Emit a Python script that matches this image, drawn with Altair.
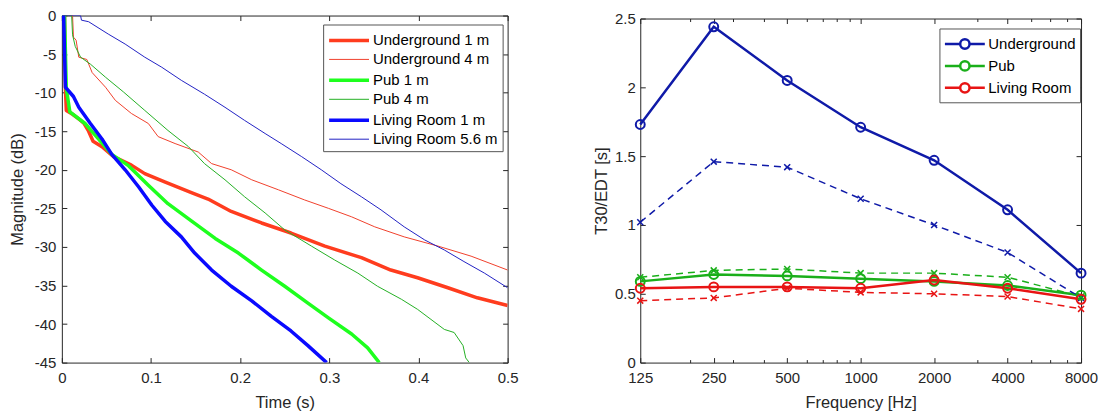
import altair as alt
import pandas as pd

# ---------------- left panel: decay curves ----------------
left_series = ["Underground 1 m", "Underground 4 m", "Pub 1 m", "Pub 4 m",
               "Living Room 1 m", "Living Room 5.6 m"]
left_colors = ["#ff3c1e", "#f0402c", "#1eff1e", "#24b024", "#0a0aff", "#2222c4"]
left_widths = [3.5, 1.0, 3.5, 1.0, 3.5, 1.0]

ug1_t = [0.000, 0.003, 0.004, 0.005, 0.012, 0.020, 0.025, 0.030, 0.035, 0.045, 0.058,
         0.078, 0.093, 0.116, 0.146, 0.164, 0.190, 0.224, 0.257, 0.295, 0.336, 0.369,
         0.399, 0.433, 0.466, 0.500]
ug1_db = [0, 0, -9.5, -12.3, -12.8, -13.5, -14.0, -15.0, -16.3, -17.0, -18.3,
          -19.4, -20.5, -21.6, -23.0, -23.8, -25.4, -26.9, -28.2, -29.9, -31.4, -33.0,
          -34.0, -35.3, -36.6, -37.6]

ug4_t = [0.000, 0.012, 0.013, 0.016, 0.019, 0.028, 0.034, 0.049, 0.060, 0.078, 0.097,
         0.108, 0.127, 0.153, 0.168, 0.190, 0.213, 0.243, 0.272, 0.299, 0.325, 0.351,
         0.384, 0.422, 0.459, 0.500]
ug4_db = [0, 0, -2.8, -3.2, -5.4, -5.7, -7.4, -9.3, -11.0, -12.7, -14.0,
          -15.7, -16.6, -17.7, -19.2, -20.0, -21.3, -22.6, -23.9, -25.0, -26.1, -27.4,
          -28.7, -29.9, -31.2, -33.0]

pub1_t = [0.000, 0.003, 0.005, 0.009, 0.026, 0.041, 0.056, 0.075, 0.097, 0.119, 0.146,
          0.172, 0.198, 0.224, 0.250, 0.276, 0.299, 0.325, 0.343, 0.356]
pub1_db = [0, 0, -9.5, -12.5, -14.0, -16.0, -18.0, -19.5, -22.0, -24.4, -26.7,
           -28.9, -30.8, -33.0, -35.1, -37.3, -39.2, -41.3, -43.1, -45.0]

pub4_t = [0.000, 0.011, 0.012, 0.015, 0.021, 0.032, 0.049, 0.069, 0.093, 0.119, 0.142,
          0.160, 0.183, 0.205, 0.228, 0.250, 0.280, 0.306, 0.332, 0.354, 0.381, 0.399,
          0.414, 0.429, 0.440, 0.450, 0.453, 0.457]
pub4_db = [0, 0, -2.5, -4.0, -5.4, -6.3, -8.0, -9.9, -12.3, -14.9, -17.0,
           -19.2, -21.3, -23.5, -25.6, -27.8, -29.9, -31.7, -33.4, -35.1, -36.8, -38.1,
           -39.4, -40.7, -41.1, -42.8, -44.4, -45.0]

lr1_t = [0.000, 0.002, 0.004, 0.013, 0.019, 0.032, 0.045, 0.056, 0.071, 0.086, 0.101,
         0.116, 0.134, 0.149, 0.168, 0.190, 0.213, 0.235, 0.257, 0.276, 0.297]
lr1_db = [0, 0, -9.3, -10.5, -11.9, -14.0, -16.0, -18.0, -20.0, -22.2, -24.6,
          -26.7, -28.7, -30.8, -33.0, -35.1, -37.0, -39.0, -40.9, -42.8, -45.0]

lr56_t = [0.000, 0.021, 0.022, 0.030, 0.052, 0.071, 0.093, 0.112, 0.134, 0.160, 0.183,
          0.205, 0.228, 0.246, 0.269, 0.291, 0.313, 0.336, 0.358, 0.384, 0.407, 0.429,
          0.451, 0.474, 0.500]
lr56_db = [0, 0, -0.6, -0.8, -2.4, -3.7, -5.4, -6.7, -8.4, -10.2, -11.9,
           -13.6, -15.3, -16.6, -18.3, -20.0, -21.8, -23.5, -25.2, -27.4, -29.1, -30.4,
           -31.9, -33.4, -35.3]

left_x_ticks = [0, 0.1, 0.2, 0.3, 0.4, 0.5]
left_y_ticks = [-45, -40, -35, -30, -25, -20, -15, -10, -5, 0]

# ---------------- right panel: T30 / EDT ----------------
rooms = ["Underground", "Pub", "Living Room"]
room_colors = ["#0f1aa8", "#1aaf1a", "#e81414"]
freqs = [125, 250, 500, 1000, 2000, 4000, 8000]
minor_freqs = [200, 300, 400, 600, 700, 800, 900, 3000, 5000, 6000, 7000]
t30_underground = [1.73, 2.44, 2.05, 1.71, 1.47, 1.11, 0.65]
edt_underground = [1.02, 1.46, 1.42, 1.19, 1.00, 0.80, 0.47]
t30_pub = [0.59, 0.64, 0.63, 0.61, 0.59, 0.56, 0.49]
edt_pub = [0.62, 0.67, 0.68, 0.65, 0.65, 0.62, 0.48]
t30_living = [0.54, 0.55, 0.55, 0.54, 0.60, 0.54, 0.46]
edt_living = [0.45, 0.47, 0.54, 0.51, 0.50, 0.48, 0.39]
right_y_ticks = [0, 0.5, 1, 1.5, 2, 2.5]

FONT = "Liberation Sans"
TXT = "#262626"

# ---------- build tables ----------
rows = []
for name, ts, dbs in zip(left_series,
                         [ug1_t, ug4_t, pub1_t, pub4_t, lr1_t, lr56_t],
                         [ug1_db, ug4_db, pub1_db, pub4_db, lr1_db, lr56_db]):
    for t, d in zip(ts, dbs):
        rows.append({"series": name, "t": t, "db": d})
df_left = pd.DataFrame(rows)

rrows = []
for room, t30, edt in zip(rooms, [t30_underground, t30_pub, t30_living],
                          [edt_underground, edt_pub, edt_living]):
    for f, a, b in zip(freqs, t30, edt):
        rrows.append({"room": room, "freq": f, "t30": a, "edt": b})
df_right = pd.DataFrame(rrows)

minus_fix = "replace(datum.label, '\u2212', '-')"


def guide_layer(data, xf, yf, xscale, yscale, xaxis, yaxis):
    """Invisible layer whose only job is to carry an extra pair of axes."""
    return alt.Chart(data).mark_point(opacity=0, size=0).encode(
        x=alt.X(xf, scale=xscale, axis=xaxis),
        y=alt.Y(yf, scale=yscale, axis=yaxis),
    )


def tick_axis(orient, values, size, offset):
    return alt.Axis(orient=orient, values=values, labels=False, domain=False, grid=False,
                    title=None, tickSize=size, offset=offset, tickColor=TXT, tickWidth=1)


def line_axis(orient, offset):
    return alt.Axis(orient=orient, labels=False, ticks=False, domain=True, grid=False,
                    title=None, offset=offset, domainColor=TXT, domainWidth=1)


# ---------- left chart ----------
xs_l = alt.Scale(domain=[0, 0.5], nice=False, zero=False)
ys_l = alt.Scale(domain=[-45, 0], nice=False, zero=False)

left_legend = alt.Legend(
    title=None, orient="none", legendX=262, legendY=9,
    symbolType="M-2,0H2", symbolSize=400, symbolOffset=10,
    symbolFillColor="transparent",
    labelFontSize=15, labelFont=FONT,
    labelColor="#000000", fillColor="white", strokeColor="#555555", padding=4,
    rowPadding=0.5, labelOffset=12,
)

left_lines = alt.Chart(df_left).mark_line(clip=True, strokeJoin="round").encode(
    x=alt.X("t:Q", scale=xs_l,
            axis=alt.Axis(values=left_x_ticks, title="Time (s)", ticks=False, domain=False,
                          labelPadding=8, titlePadding=9, labelFlush=False,
                          labelOverlap=False, format="~g")),
    y=alt.Y("db:Q", scale=ys_l,
            axis=alt.Axis(values=left_y_ticks, title="Magnitude (dB)", ticks=False,
                          domain=False, labelPadding=6, titlePadding=9,
                          labelExpr=minus_fix, labelOverlap=False)),
    color=alt.Color("series:N", scale=alt.Scale(domain=left_series, range=left_colors),
                    legend=left_legend),
    strokeWidth=alt.StrokeWidth("series:N",
                                scale=alt.Scale(type="ordinal", domain=left_series,
                                                range=left_widths),
                                legend=left_legend),
    order=alt.Order("t:Q"),
)

left = alt.layer(
    left_lines,
    guide_layer(df_left, "t:Q", "db:Q", xs_l, ys_l,
                tick_axis("bottom", left_x_ticks, 5, -5),
                tick_axis("left", left_y_ticks, 5, -5)),
    guide_layer(df_left, "t:Q", "db:Q", xs_l, ys_l,
                tick_axis("top", left_x_ticks, 5, -5),
                tick_axis("right", left_y_ticks, 5, -5)),
).resolve_axis(x="independent", y="independent").properties(width=447, height=348)

# ---------- right chart ----------
RH = 348      # view height (same as left so both bottoms line up)
RTOP = 3      # the right frame starts a little lower than the left one
xs_r = alt.Scale(type="log", domain=[125, 8000], nice=False)
ys_r = alt.Scale(domain=[0, 2.5], nice=False, zero=False, range=[RH, RTOP])
col_r = alt.Scale(domain=rooms, range=room_colors)

legend_path = ("M-2,0H-0.47A0.47,0.47 0 1,1 0.47,0H2"
               "M0.47,0A0.47,0.47 0 1,1 -0.47,0")
right_legend = alt.Legend(
    title=None, orient="none", legendX=300, legendY=13,
    symbolType=legend_path, symbolSize=400, symbolStrokeWidth=2.5, symbolOffset=10,
    symbolFillColor="transparent", labelFontSize=15, labelFont=FONT,
    labelColor="#000000", fillColor="white", strokeColor="#555555", padding=4,
    rowPadding=-2, labelOffset=12,
)

t30_line = alt.Chart(df_right).mark_line(strokeWidth=2.5).encode(
    x=alt.X("freq:Q", scale=xs_r,
            axis=alt.Axis(values=freqs, title="Frequency [Hz]", ticks=False, domain=True,
                          domainColor=TXT, domainWidth=1,
                          labelPadding=8, titlePadding=9, labelFlush=False,
                          labelOverlap=False, format="d")),
    y=alt.Y("t30:Q", scale=ys_r,
            axis=alt.Axis(values=right_y_ticks, title="T30/EDT [s]", ticks=False,
                          domain=True, domainColor=TXT, domainWidth=1,
                          labelPadding=5, titlePadding=5, format="~g",
                          labelOverlap=False)),
    color=alt.Color("room:N", scale=col_r, legend=right_legend),
)
t30_pts = alt.Chart(df_right).mark_point(shape="circle", filled=False, size=80,
                                         strokeWidth=2, opacity=1).encode(
    x=alt.X("freq:Q", scale=xs_r, axis=None),
    y=alt.Y("t30:Q", scale=ys_r, axis=None),
    color=alt.Color("room:N", scale=col_r),
)
edt_line = alt.Chart(df_right).mark_line(strokeWidth=1.5, strokeDash=[7, 5]).encode(
    x=alt.X("freq:Q", scale=xs_r, axis=None),
    y=alt.Y("edt:Q", scale=ys_r, axis=None),
    color=alt.Color("room:N", scale=col_r),
)
edt_pts = alt.Chart(df_right).mark_point(shape="M-1,-1L1,1M-1,1L1,-1", filled=False,
                                         size=36, strokeWidth=1.5, opacity=1).encode(
    x=alt.X("freq:Q", scale=xs_r, axis=None),
    y=alt.Y("edt:Q", scale=ys_r, axis=None),
    color=alt.Color("room:N", scale=col_r),
)

right = alt.layer(
    t30_line, edt_line, edt_pts, t30_pts,
    guide_layer(df_right, "freq:Q", "t30:Q", xs_r, ys_r,
                tick_axis("bottom", freqs, 5, -5),
                tick_axis("left", right_y_ticks, 5, -5)),
    guide_layer(df_right, "freq:Q", "t30:Q", xs_r, ys_r,
                tick_axis("top", freqs, 5, -(5 + RTOP)),
                tick_axis("right", right_y_ticks, 5, -5)),
    guide_layer(df_right, "freq:Q", "t30:Q", xs_r, ys_r,
                tick_axis("bottom", minor_freqs, 3, -3), None),
    guide_layer(df_right, "freq:Q", "t30:Q", xs_r, ys_r,
                tick_axis("top", minor_freqs, 3, -(3 + RTOP)), None),
    guide_layer(df_right, "freq:Q", "t30:Q", xs_r, ys_r,
                line_axis("top", -RTOP), line_axis("right", 0)),
).resolve_axis(x="independent", y="independent").properties(
    width=442, height=RH, view=alt.ViewBackground(strokeOpacity=0)
)

chart = alt.hconcat(left, right, spacing=75).resolve_scale(
    color="independent", strokeWidth="independent"
).resolve_legend(color="independent", strokeWidth="independent").properties(
    padding={"left": 0, "top": -1, "right": 0, "bottom": 0}
).configure_view(stroke=TXT, strokeWidth=1).configure_axis(
    labelFont=FONT, titleFont=FONT, labelFontSize=15, titleFontSize=16.5,
    labelColor=TXT, titleColor=TXT, titleFontWeight="normal", grid=False,
).configure_legend(labelLimit=0)

chart.save("out.html", embed_options={"renderer": "svg", "actions": False})
